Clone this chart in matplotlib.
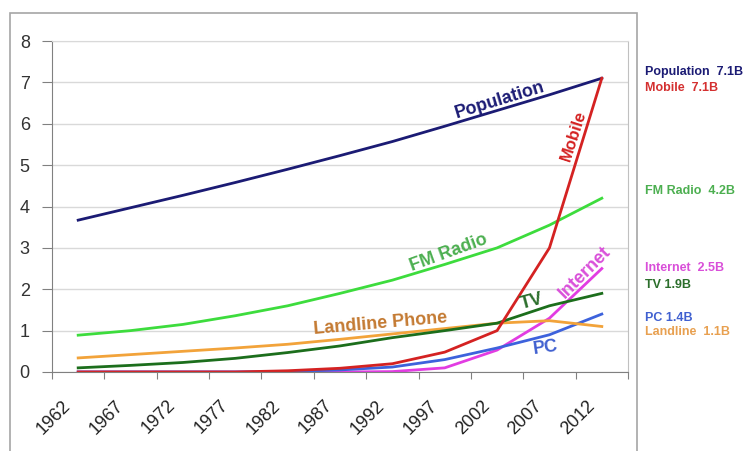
import matplotlib.pyplot as plt
from matplotlib.patches import Rectangle
from matplotlib.transforms import ScaledTranslation

plt.rcParams['font.family'] = ['Liberation Sans', 'DejaVu Sans']

years = ['1962', '1967', '1972', '1977', '1982', '1987', '1992', '1997', '2002', '2007', '2012']
population = [3.67, 3.97, 4.27, 4.58, 4.9, 5.23, 5.57, 5.94, 6.32, 6.7, 7.1]
mobile = [0, 0, 0, 0, 0.03, 0.09, 0.2, 0.48, 1.0, 3.0, 7.1]
fm_radio = [0.89, 1.0, 1.15, 1.36, 1.6, 1.9, 2.22, 2.6, 3.0, 3.55, 4.2]
landline = [0.34, 0.42, 0.5, 0.58, 0.67, 0.79, 0.92, 1.05, 1.18, 1.24, 1.1]
tv = [0.1, 0.16, 0.23, 0.33, 0.47, 0.63, 0.83, 1.0, 1.18, 1.6, 1.9]
internet = [0, 0, 0, 0, 0, 0, 0.01, 0.1, 0.53, 1.3, 2.5]
pc = [0, 0, 0, 0, 0.01, 0.05, 0.12, 0.3, 0.58, 0.9, 1.4]

x = list(range(len(years)))

fig = plt.figure(figsize=(7.48, 4.51), dpi=100)
ax = fig.add_axes([52 / 748, 1 - 372 / 451, 576 / 748, 331 / 451])

# outer chart frame
fig.add_artist(Rectangle((10 / 748, -0.1), 627 / 748, 1.1 - 13 / 451,
                         transform=fig.transFigure, fill=False,
                         ec='#a6a6a6', lw=1.2))

lw = 2.0
ax.plot(x, internet, color='#e23ce2', lw=lw)
ax.plot(x, pc, color='#3d62dc', lw=lw)
ax.plot(x, landline, color='#f2a33a', lw=lw)
ax.plot(x, tv, color='#1c6e1c', lw=lw)
ax.plot(x, fm_radio, color='#3ddc3d', lw=lw)
ax.plot(x, population, color='#1b1b74', lw=lw)
ax.plot(x, mobile, color='#d42222', lw=lw)

ax.set_xlim(-0.5, 10.5)
ax.set_ylim(0, 8)
ax.set_yticks(range(9))
ax.yaxis.grid(True, color='#d9d9d9', lw=1)
ax.set_axisbelow(True)

# category ticks sit between the years, year labels hang below
ax.set_xticks([i - 0.5 for i in range(len(years) + 1)])
ax.set_xticklabels([])
ax.tick_params(axis='x', length=5, color='#808080', direction='out')
ax.tick_params(axis='y', length=7, color='#808080', pad=9, labelsize=13,
               labelcolor='#333333')

year_tr = ax.get_xaxis_transform() + ScaledTranslation(-10 / 100, -31 / 100,
                                                       fig.dpi_scale_trans)
for i, yr in zip(x, years):
    ax.text(i, 0, yr, transform=year_tr, rotation=45, ha='right', va='center',
            rotation_mode='anchor', fontsize=13, color='#222222', clip_on=False)

for side in ['left', 'bottom']:
    ax.spines[side].set_color('#808080')
ax.spines['top'].set_color('#d9d9d9')
ax.spines['right'].set_color('#c0c0c0')

# labels along the lines
ax.text(8.06, 6.57, 'Population', color='#1b1b74', fontsize=13, fontweight='bold',
        rotation=17, ha='center', va='center')
ax.text(9.47, 5.7, 'Mobile', color='#d42222', fontsize=12, fontweight='bold',
        rotation=72, ha='center', va='center')
ax.text(7.07, 2.87, 'FM Radio', color='#4caf50', fontsize=13, fontweight='bold',
        rotation=20, ha='center', va='center')
ax.text(5.77, 1.18, 'Landline Phone', color='#c47a32', fontsize=13, fontweight='bold',
        rotation=5, ha='center', va='center')
ax.text(8.67, 1.7, 'TV', color='#2b6e2b', fontsize=13, fontweight='bold',
        rotation=15, ha='center', va='center')
ax.text(9.68, 2.4, 'Internet', color='#d94fd9', fontsize=13, fontweight='bold',
        rotation=45, ha='center', va='center')
ax.text(8.92, 0.58, 'PC', color='#4060d0', fontsize=13, fontweight='bold',
        rotation=8, ha='center', va='center')

# totals at the right
totals = [
    ('Population  7.1B', '#1b1b74', 72),
    ('Mobile  7.1B', '#d43030', 88),
    ('FM Radio  4.2B', '#4caf50', 191),
    ('Internet  2.5B', '#d94fd9', 268),
    ('TV 1.9B', '#2b6e2b', 285),
    ('PC 1.4B', '#4060d0', 318),
    ('Landline  1.1B', '#e8a050', 332),
]
for label, color, ypx in totals:
    fig.text(645 / 748, 1 - ypx / 451, label, color=color, fontsize=9,
             fontweight='bold', ha='left', va='center')

fig.savefig('out.png', dpi=100)
